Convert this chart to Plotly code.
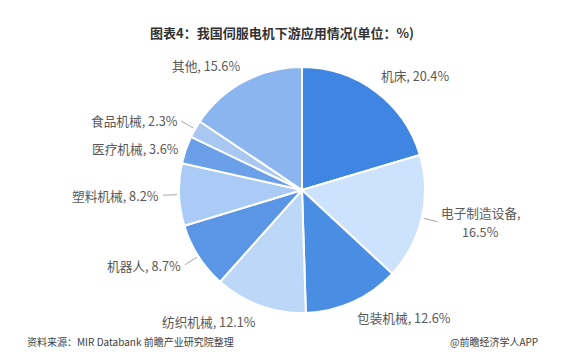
import math
import plotly.graph_objects as go

labels = ["机床", "电子制造设备", "包装机械", "纺织机械", "机器人", "塑料机械", "医疗机械", "食品机械", "其他"]
values = [20.4, 16.5, 12.6, 12.1, 8.7, 8.2, 3.6, 2.3, 15.6]
colors = ["#3f86e3", "#cde2fc", "#4a8ee3", "#bcd7f8", "#5b96e6", "#a9cbf5", "#6aa0e8", "#a8c8f2", "#8ab5ee"]
label_text = ["机床, 20.4%", "电子制造设备,<br>16.5%", "包装机械, 12.6%", "纺织机械, 12.1%",
              "机器人, 8.7%", "塑料机械, 8.2%", "医疗机械, 3.6%", "食品机械, 2.3%", "其他, 15.6%"]
leader = {"电子制造设备", "机器人", "塑料机械", "食品机械"}

W, H = 564, 360
dom_x = [0.3174, 0.7535]
dom_y = [0.1306, 0.8139]
cx = (dom_x[0] + dom_x[1]) / 2 * W
cy = (1 - (dom_y[0] + dom_y[1]) / 2) * H
R = min((dom_x[1] - dom_x[0]) * W, (dom_y[1] - dom_y[0]) * H) / 2

FONT = "Noto Sans CJK SC, Noto Sans, sans-serif"
FS = 12.7
LINE_H = 19


def est_width(t, fs):
    w = 0.0
    for ch in t:
        w += fs if ord(ch) > 0x2E80 else fs * 0.55
    return w


fig = go.Figure(go.Pie(
    labels=labels, values=values, sort=False, direction="clockwise", rotation=0,
    marker=dict(colors=colors, line=dict(color="white", width=2)),
    textinfo="none", hoverinfo="label+value", showlegend=False,
    domain=dict(x=dom_x, y=dom_y),
))

annotations = []
shapes = []
total = sum(values)
cum = 0.0
for lab, v, txt in zip(labels, values, label_text):
    mid = (cum + v / 2) / total * 2 * math.pi
    cum += v
    s, c = math.sin(mid), -math.cos(mid)   # c: screen-down positive
    ex, ey = cx + R * s, cy + R * c
    d = 18 if lab in leader else 5
    px, py = ex + d * s, ey + d * c
    xa = "left" if s > 0.2 else ("right" if s < -0.2 else "center")
    ya = "top" if c > 0.7 else ("bottom" if c < -0.7 else "middle")
    lines = txt.split("<br>")
    if len(lines) == 1:
        annotations.append(dict(
            x=px / W, y=1 - py / H, xref="paper", yref="paper",
            text=txt, showarrow=False, xanchor=xa, yanchor=ya,
            font=dict(family=FONT, size=FS, color="#595959"),
        ))
    else:
        bw = max(est_width(t, FS) for t in lines)
        bcx = px + bw / 2 if xa == "left" else (px - bw / 2 if xa == "right" else px)
        n = len(lines)
        for i, t in enumerate(lines):
            ly = py + (i - (n - 1) / 2) * LINE_H
            annotations.append(dict(
                x=bcx / W, y=1 - ly / H, xref="paper", yref="paper",
                text=t, showarrow=False, xanchor="center", yanchor="middle",
                font=dict(family=FONT, size=FS, color="#595959"),
            ))
    if lab in leader:
        x0, y0 = ex + 2 * s, ey + 2 * c
        shapes.append(dict(type="line", xref="paper", yref="paper",
                           x0=x0 / W, y0=1 - y0 / H, x1=(px - 2 * s) / W, y1=1 - (py - 2 * c) / H,
                           line=dict(color="#a6a6a6", width=1)))

annotations += [
    dict(x=0.5, y=1 - 32 / H, xref="paper", yref="paper", showarrow=False,
         text="<b>图表4：我国伺服电机下游应用情况(单位：%)</b>",
         font=dict(family=FONT, size=13, color="#333333"), xanchor="center", yanchor="middle"),
    dict(x=25 / W, y=1 - 341 / H, xref="paper", yref="paper", showarrow=False,
         text="资料来源：MIR Databank 前瞻产业研究院整理",
         font=dict(family=FONT, size=10, color="#404040"), xanchor="left", yanchor="middle"),
    dict(x=540 / W, y=1 - 341 / H, xref="paper", yref="paper", showarrow=False,
         text="@前瞻经济学人APP",
         font=dict(family=FONT, size=10, color="#404040"), xanchor="right", yanchor="middle"),
]

fig.update_layout(
    width=W, height=H, margin=dict(l=0, r=0, t=0, b=0),
    paper_bgcolor="white", plot_bgcolor="white",
    annotations=annotations, shapes=shapes,
)
fig.write_html("out.html", config={"displayModeBar": False},
               post_script="document.body.style.margin='0';document.body.style.overflow='hidden';")
